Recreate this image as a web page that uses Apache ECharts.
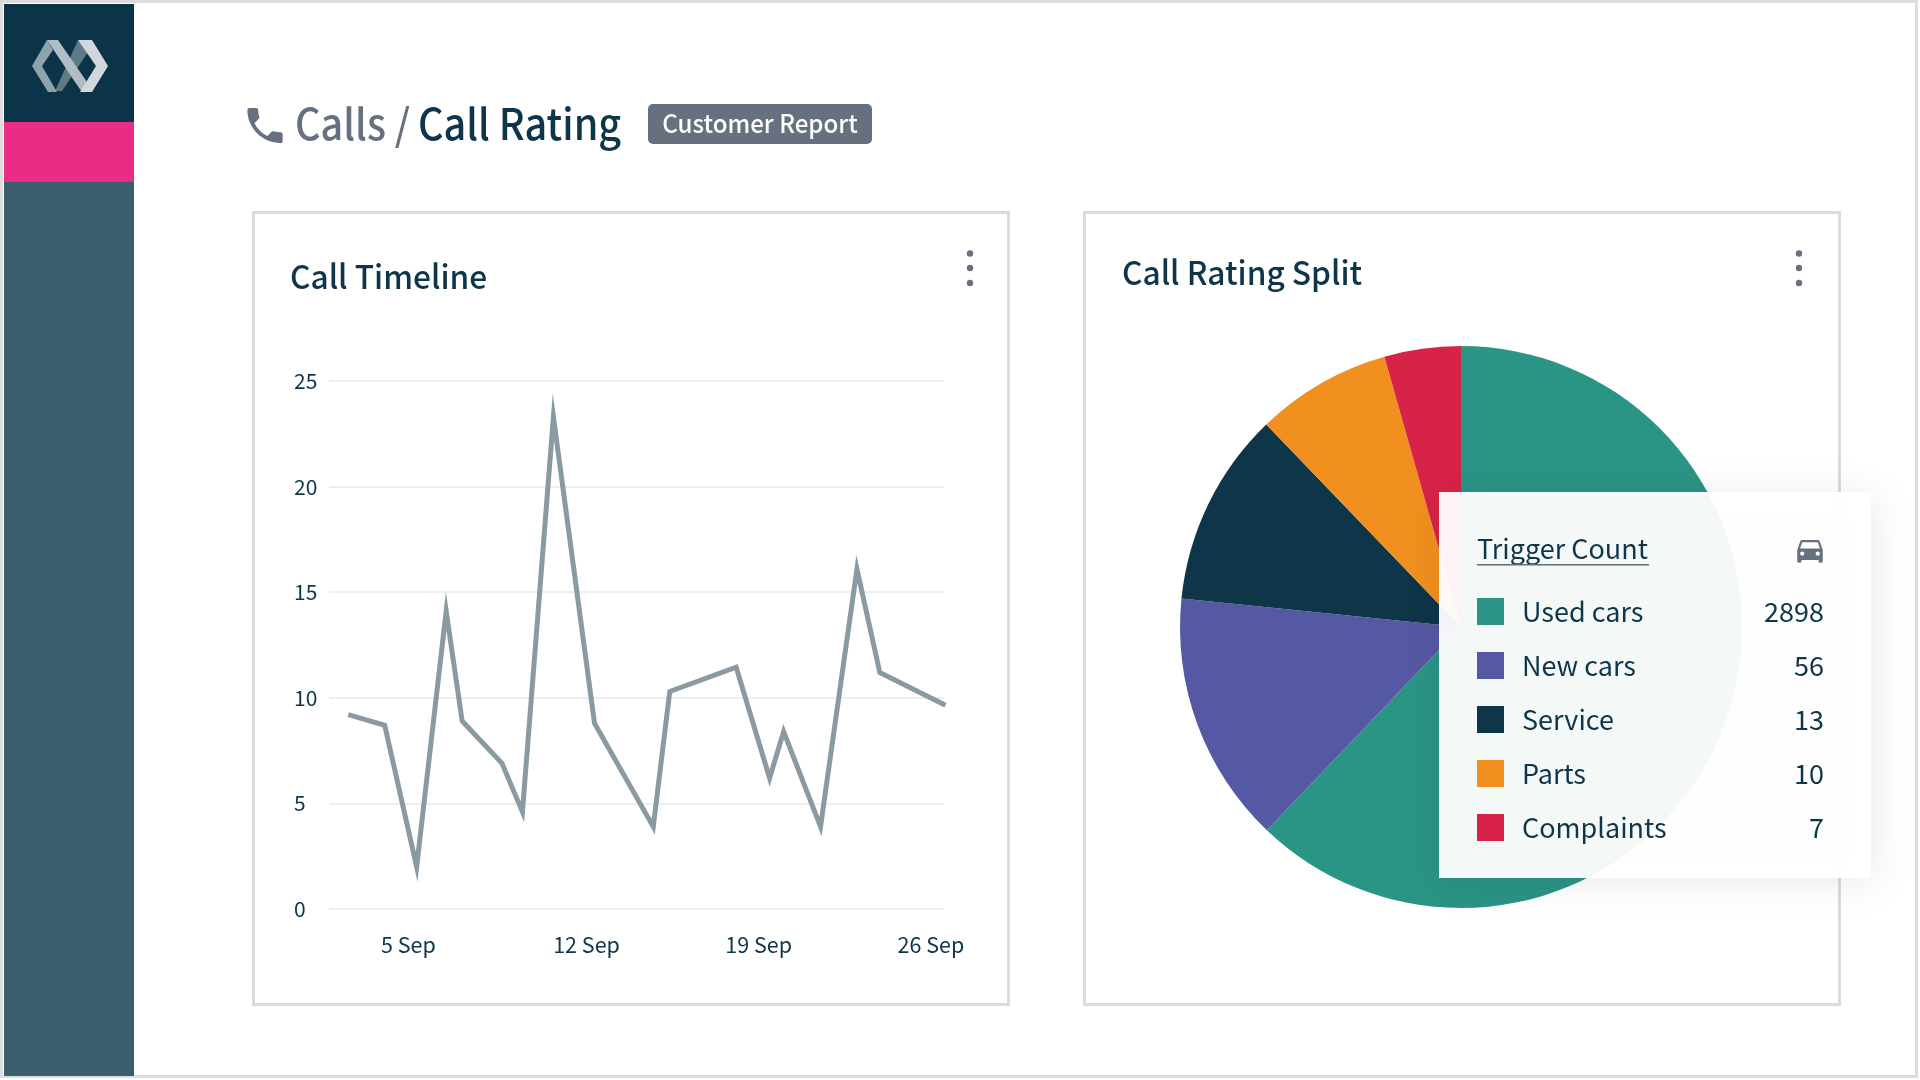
<!DOCTYPE html>
<html>
<head>
<meta charset="utf-8">
<style>
html, body { margin: 0; padding: 0; background: #fff; }
#main { width: 1920px; height: 1080px; }
</style>
<script src="https://cdn.jsdelivr.net/npm/echarts@6/dist/echarts.min.js"></script>
</head>
<body>
<div id="main"></div>
<script>
// Call Timeline: day of September, calls
var timelineDays = [3.67, 5.15, 6.45, 7.65, 8.3, 9.92, 10.75, 12.01, 13.68, 16.07, 16.74, 19.44, 20.8, 21.37, 22.87, 24.35, 25.28, 27.95];
var timelineCalls = [9.2, 8.7, 2.0, 14.1, 8.9, 6.9, 4.6, 23.3, 8.8, 3.9, 10.3, 11.45, 6.2, 8.4, 3.9, 16.1, 11.2, 9.65];
var timelineTicks = [5, 12, 19, 26];

// Call Rating Split: shares as drawn, counts as printed in the panel
var ratingNames = ['Used cars', 'New cars', 'Service', 'Parts', 'Complaints'];
var ratingShares = [62.2, 14.5, 11.2, 7.8, 4.4];
var ratingCounts = [2898, 56, 13, 10, 7];
var ratingColors = ['#2a9485', '#5559a3', '#0f3549', '#f18f1f', '#d62347'];

var FONT = '"Noto Sans CJK SC", "Noto Sans", sans-serif';
var INK = '#0f3549';
var SLATE = '#66707e';
var BORDER = '#d9dcdf';

echarts.graphic.registerShape('phoneIcon', echarts.graphic.extendPath('M6.62 10.79c1.44 2.83 3.76 5.14 6.59 6.59l2.2-2.2c.27-.27.67-.36 1.02-.24 1.12.37 2.33.57 3.57.57.55 0 1 .45 1 1V20c0 .55-.45 1-1 1-9.39 0-17-7.61-17-17 0-.55.45-1 1-1h3.5c.55 0 1 .45 1 1 0 1.25.2 2.45.57 3.57.11.35.03.74-.25 1.02l-2.2 2.2z', {}));
echarts.graphic.registerShape('carIcon', echarts.graphic.extendPath('M18.92 6.01C18.72 5.42 18.16 5 17.5 5h-11c-.66 0-1.21.42-1.42 1.01L3 12v8c0 .55.45 1 1 1h1c.55 0 1-.45 1-1v-1h12v1c0 .55.45 1 1 1h1c.55 0 1-.45 1-1v-8l-2.08-5.99zM6.5 16c-.83 0-1.5-.67-1.5-1.5S5.67 13 6.5 13s1.5.67 1.5 1.5S7.33 16 6.5 16zm11 0c-.83 0-1.5-.67-1.5-1.5s.67-1.5 1.5-1.5 1.5.67 1.5 1.5-.67 1.5-1.5 1.5zM5 11l1.5-4.5h11L19 11H5z', {}));

function box(x, y, w, h, fill, z) {
    return {type: 'rect', z: z || 0, shape: {x: x, y: y, width: w, height: h}, style: {fill: fill}};
}
function label(x, y, text, size, color, extra) {
    extra = extra || {};
    return {
        type: 'text', z: extra.z || 1, x: x, y: y, scaleX: extra.squeeze || 1,
        style: {
            text: text, fontFamily: FONT, fontSize: size, fill: color,
            fontWeight: extra.weight || 400,
            textAlign: extra.align || 'left', textVerticalAlign: 'middle'
        }
    };
}
function card(x, y, w, h) {
    return {
        type: 'rect', z: 0, shape: {x: x + 1.5, y: y + 1.5, width: w - 3, height: h - 3},
        style: {fill: '#fff', stroke: BORDER, lineWidth: 3}
    };
}
function dots(x) {
    return [253.5, 268, 283].map(function (y) {
        return {type: 'circle', z: 1, shape: {cx: x, cy: y, r: 3.2}, style: {fill: SLATE}};
    });
}
function poly(points, fill) {
    return {type: 'polygon', z: 2, shape: {points: points}, style: {fill: fill}};
}
function icon(kind, x, y, size, z) {
    return {type: kind, z: z, x: x, y: y, scaleX: size / 24, scaleY: size / 24, style: {fill: SLATE}};
}

var graphics = [
    // page frame and sidebar
    {type: 'rect', z: 0, shape: {x: 1.5, y: 1.5, width: 1915, height: 1075}, style: {fill: '#fff', stroke: '#dcdcdc', lineWidth: 3}},
    box(4, 4, 130, 118, '#0b3448', 1),
    box(4, 122, 130, 60, '#e92c86', 1),
    box(4, 182, 130, 894, '#3a5e6d', 1),
    // logo
    poly([[55, 91], [78, 40], [88, 52], [62, 91]], '#5f7a87'),
    poly([[47, 40], [32, 66], [48, 92], [57, 92], [42, 66], [53, 50]], '#8fa3ad'),
    poly([[47, 40], [58, 40], [87, 82], [82, 92], [75, 82]], '#b0bdc4'),
    poly([[78, 40], [92, 40], [108, 66], [92, 92], [80, 92], [96, 66]], '#d0d8dc'),
    // header
    icon('phoneIcon', 241.5, 102, 47, 1),
    label(295, 124, 'Calls /', 43, SLATE, {weight: 500, squeeze: 0.92}),
    label(418, 124, 'Call Rating', 43, INK, {weight: 500, squeeze: 0.92}),
    {type: 'rect', z: 1, shape: {x: 648, y: 104, width: 224, height: 40, r: 5}, style: {fill: SLATE}},
    label(760, 123, 'Customer Report', 25, '#fff', {align: 'center', weight: 500, squeeze: 0.964}),
    // cards
    card(252, 211, 758, 795),
    card(1083, 211, 758, 795),
    label(290, 276, 'Call Timeline', 33, INK, {weight: 500, squeeze: 0.96}),
    label(1122, 272, 'Call Rating Split', 33, INK, {weight: 500, squeeze: 0.96}),
    // floating panel above the pie
    {
        type: 'rect', z: 10, shape: {x: 1439, y: 492, width: 432, height: 386},
        style: {fill: 'rgba(255,255,255,0.95)', shadowBlur: 40, shadowColor: 'rgba(0,0,0,0.09)', shadowOffsetX: 4, shadowOffsetY: 4}
    },
    label(1477, 549, 'Trigger Count', 27, INK, {z: 11}),
    {type: 'rect', z: 11, shape: {x: 1477, y: 564, width: 172, height: 1.5}, style: {fill: '#5f6f7c'}},
    icon('carIcon', 1793, 533, 34, 11)
].concat(dots(970), dots(1799));

var option = {
    animation: false,
    backgroundColor: '#fff',
    color: ratingColors,
    textStyle: {fontFamily: FONT},
    graphic: {elements: graphics},
    grid: {left: 329, top: 381, width: 615, height: 528},
    xAxis: {
        type: 'value',
        min: 2.886,
        max: 27.89,
        axisLine: {show: false},
        axisTick: {show: false},
        splitLine: {show: false},
        axisLabel: {
            customValues: timelineTicks,
            formatter: function (v) { return v + ' Sep'; },
            align: 'left',
            color: INK,
            fontFamily: FONT,
            fontSize: 21.5,
            margin: 25
        }
    },
    yAxis: {
        type: 'value',
        min: 0,
        max: 25,
        interval: 5,
        axisLine: {show: false},
        axisTick: {show: false},
        splitLine: {lineStyle: {color: '#e6e9ec', width: 1.5}},
        axisLabel: {color: INK, fontFamily: FONT, fontSize: 21, align: 'left', margin: 35}
    },
    legend: {
        z: 11,
        left: 1477,
        top: 598,
        padding: 0,
        orient: 'vertical',
        selectedMode: false,
        icon: 'rect',
        itemWidth: 27,
        itemHeight: 27,
        itemGap: 27,
        data: ratingNames,
        formatter: function (name) {
            return '{n|' + name + '}{v|' + ratingCounts[ratingNames.indexOf(name)] + '}';
        },
        textStyle: {
            rich: {
                n: {width: 190, padding: [0, 0, 0, 13], color: INK, fontFamily: FONT, fontSize: 27},
                v: {width: 112, align: 'right', color: INK, fontFamily: FONT, fontSize: 27}
            }
        }
    },
    series: [
        {
            type: 'line',
            clip: false,
            data: timelineDays.map(function (d, i) { return [d, timelineCalls[i]]; }),
            showSymbol: false,
            symbol: 'none',
            lineStyle: {color: '#8a9aa3', width: 5, join: 'miter', miterLimit: 10}
        },
        {
            type: 'pie',
            center: [1461, 627],
            radius: [0, 281],
            startAngle: 90,
            label: {show: false},
            labelLine: {show: false},
            data: ratingNames.map(function (n, i) { return {name: n, value: ratingShares[i]}; })
        }
    ]
};

var myChart = echarts.init(document.getElementById('main'));
myChart.setOption(option);
</script>
</body>
</html>
